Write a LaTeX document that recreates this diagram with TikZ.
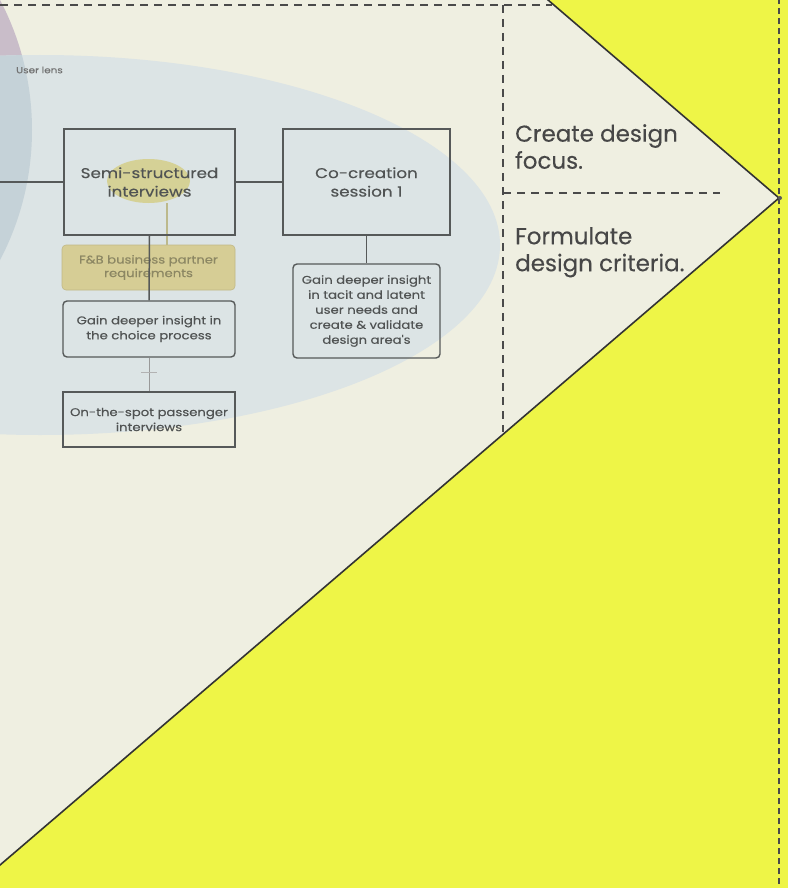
\documentclass[tikz,border=0pt]{standalone}
\usepackage{fontspec}
\setmainfont{Poppins}
\newfontfamily\lblfont[FakeStretch=1.18, FakeBold=0.35]{Poppins}
\newfontfamily\headfont[FakeBold=0.25]{Poppins}
\usetikzlibrary{calc,shapes.geometric}

\definecolor{bgyellow}{HTML}{EEF547}
\definecolor{cream}{HTML}{EFEFE1}
\definecolor{lensblue}{HTML}{DCE4E5}
\definecolor{mauve}{HTML}{C9BDC9}
\definecolor{overlapblue}{HTML}{C5D2D8}
\definecolor{olive}{HTML}{D5D196}
\definecolor{olivebox}{HTML}{D6CD95}
\definecolor{olivetext}{HTML}{8C8763}
\definecolor{boxline}{HTML}{565959}
\definecolor{inkgrey}{HTML}{505353}
\definecolor{dashgrey}{HTML}{4A4A4A}

\tikzset{
  sharpbox/.style={draw=boxline, line width=1.6pt, rectangle, inner sep=0pt,
    align=center, text=inkgrey},
  roundbox/.style={draw=boxline, line width=1.4pt, rectangle, rounded corners=4pt,
    inner sep=0pt, align=center, text=inkgrey},
  bigtext/.style={font=\lblfont\fontsize{14.2}{18.5}\selectfont},
  smalltext/.style={font=\lblfont\fontsize{11.2}{15}\selectfont},
  link/.style={draw=boxline, line width=1.5pt},
  dashline/.style={draw=dashgrey, line width=1.3pt, dash pattern=on 8pt off 6pt},
  edgeline/.style={draw=black!80, line width=1.6pt},
  heading/.style={anchor=north west, inner sep=0pt, align=left, text=black!72,
    font=\headfont\fontsize{23}{27}\selectfont},
}

\begin{document}
\begin{tikzpicture}[x=1pt, y=-1pt]
\useasboundingbox (0,0) rectangle (787,888);
\fill[bgyellow] (-2,-2) rectangle (789,890);

% outline of the funnel
\coordinate (topcut) at (548,0);
\coordinate (apex) at (779,198);
\coordinate (lowcut) at (0,865);
\fill[cream] (-2,-2) -- (topcut) -- (apex) -- (lowcut) -- (-2,865) -- cycle;

% lens areas
\begin{scope}
  \clip (-2,-2) -- (topcut) -- (apex) -- (lowcut) -- (-2,865) -- cycle;
  \fill[mauve] (-248,130) circle (280);
  \fill[lensblue] (40,245) ellipse [x radius=460, y radius=190];
  \begin{scope}
    \clip (-248,130) circle (280);
    \fill[overlapblue] (40,245) ellipse [x radius=460, y radius=190];
  \end{scope}
\end{scope}

% dashed frame lines
\draw[dashline] (0,5) -- (552,5);
\draw[dashline] (503,5) -- (503,432);
\draw[dashline] (503,193) -- (720,193);
\draw[dashline, dash pattern=on 6pt off 4pt] (779,-2) -- (779,890);

% funnel edges
\draw[edgeline] ($(topcut)+(-3,-2.6)$) -- (apex) -- ($(lowcut)+(-3,2.6)$);
\node[circle, fill=black!65, minimum size=4pt, inner sep=0pt] (apexdot) at (780,198) {};

% side headings
\node[heading] (focus) at (515,124) {Create design\\focus.};
\node[heading] (criteria) at (515,227) {Formulate\\design criteria.};

% lens label
\node[anchor=west, inner sep=0pt, text=black!55, font=\lblfont\fontsize{8.8}{9}\selectfont]
  (lenslabel) at (16,70) {User lens};

% highlight behind the interview label
\node[ellipse, fill=olive, minimum width=83pt, minimum height=44pt, inner sep=0pt]
  (blob) at (148.5,181) {};
\draw[olive!85!black!90, line width=1.4pt] ([xshift=18.5pt]blob.south) -- ++(0,44) coordinate (blobfoot);

% boxes
\node[sharpbox, bigtext, minimum width=171pt, minimum height=106pt] (semi) at (149.5,182)
  {Semi-structured\\interviews};
\node[sharpbox, bigtext, minimum width=167pt, minimum height=106pt] (cocreate) at (366.5,182)
  {Co-creation\\session 1};
\node[rectangle, rounded corners=4pt, fill=olivebox, draw=olivebox!90!black,
  line width=0.6pt, minimum width=173pt, minimum height=45pt, inner sep=0pt,
  align=center, text=olivetext, font=\lblfont\fontsize{11.2}{13.5}\selectfont]
  (fb) at (148.5,267.5) {F\&B business partner\\requirements};
\node[roundbox, smalltext, minimum width=172pt, minimum height=56pt] (gainone) at (149,329)
  {Gain deeper insight in\\the choice process};
\node[sharpbox, smalltext, minimum width=172pt, minimum height=55pt] (spot) at (149,419.5)
  {On-the-spot passenger\\interviews};
\node[roundbox, smalltext, minimum width=147pt, minimum height=94pt] (gaintwo) at (366.5,311)
  {Gain deeper insight\\in tacit and latent\\user needs and\\create \& validate\\design area's};

% connectors
\coordinate (leftin) at (-2,182);
\draw[link] (leftin) -- (semi.west);
\draw[link] (semi.east) -- (cocreate.west);
\draw[link] (semi.south) -- (gainone.north);
\draw[link] (cocreate.south) -- (gaintwo.north);
\draw[draw=black!40, line width=1pt] (gainone.south) -- (spot.north);
\draw[draw=black!30, line width=0.9pt] ($(gainone.south)!0.45!(spot.north)+(-8,0)$) -- ++(16,0);
\end{tikzpicture}
\end{document}
